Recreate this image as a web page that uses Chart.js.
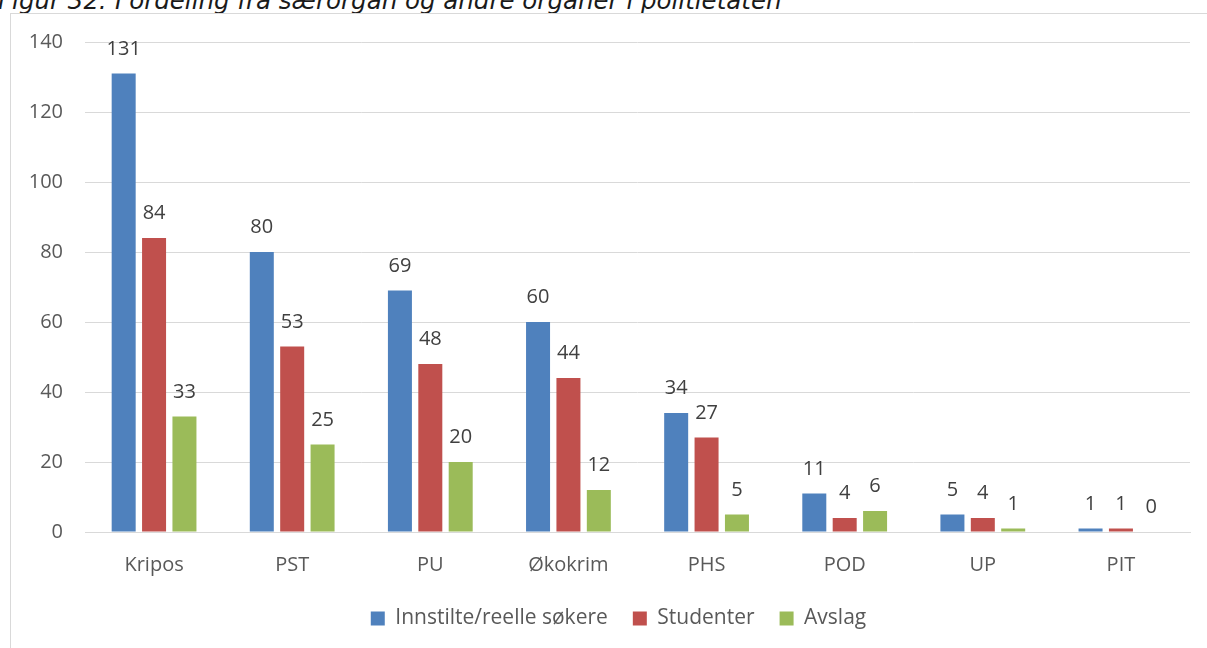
<!DOCTYPE html>
<html>
<head>
<meta charset="utf-8">
<script src="https://cdn.jsdelivr.net/npm/chart.js@4"></script>
<style>
  html, body { margin: 0; padding: 0; background: #fff; overflow: hidden; }
  body { width: 1207px; height: 648px; position: relative; }
  .title {
    position: absolute; left: -2px; top: -14px;
    font-family: "DejaVu Sans", Verdana, sans-serif; font-style: italic;
    font-size: 24.5px; color: #1a1a1a; white-space: nowrap;
  }
  .frame {
    position: absolute; left: 10px; top: 13px; width: 1300px; height: 800px;
    border: 1px solid #d9d9d9; box-sizing: border-box;
  }
  #wrap { position: absolute; left: 0; top: 0; width: 1207px; height: 648px; }
</style>
</head>
<body>
<div class="title">Figur 32: Fordeling fra særorgan og andre organer i politietaten</div>
<div class="frame"></div>
<div id="wrap"><canvas id="chart"></canvas></div>
<script>
// categories and series
const categories = ['Kripos', 'PST', 'PU', 'Økokrim', 'PHS', 'POD', 'UP', 'PIT'];
const innstilte  = [131, 80, 69, 60, 34, 11, 5, 1];
const studenter  = [84, 53, 48, 44, 27, 4, 4, 1];
const avslag     = [33, 25, 20, 12, 5, 6, 1, 0];
const yTicks     = [0, 20, 40, 60, 80, 100, 120, 140];

const FONT = '"Open Sans", "Noto Sans", sans-serif';
const TEXT = '#595959';
const SIZE = 20;

// Plugin: value labels above each bar
const valueLabels = {
  id: 'valueLabels',
  afterDatasetsDraw(chart) {
    const { ctx } = chart;
    ctx.save();
    ctx.font = `${SIZE}px ${FONT}`;
    ctx.fillStyle = '#404040';
    ctx.textAlign = 'center';
    ctx.textBaseline = 'alphabetic';
    chart.data.datasets.forEach((ds, i) => {
      chart.getDatasetMeta(i).data.forEach((bar, j) => {
        ctx.fillText(String(ds.data[j]), bar.x, bar.y - 19);
      });
    });
    ctx.restore();
  },
};

// Plugin: nudge the legend box right so it centres under the plot like the original
const legendShift = {
  id: 'legendShift',
  afterLayout(chart) {
    const lg = chart.legend;
    if (!lg) return;
    lg.left += 11;
    lg.right += 11;
  },
};

new Chart(document.getElementById('chart'), {
  type: 'bar',
  data: {
    labels: categories,
    datasets: [
      { label: 'Innstilte/reelle søkere', data: innstilte, backgroundColor: '#4f81bd' },
      { label: 'Studenter', data: studenter, backgroundColor: '#c0504d' },
      { label: 'Avslag', data: avslag, backgroundColor: '#9bbb59' },
    ],
  },
  options: {
    responsive: true,
    maintainAspectRatio: false,
    animation: false,
    categoryPercentage: 0.66,
    barPercentage: 0.79,
    layout: { padding: { top: 42, left: 25, right: 17, bottom: 9 } },
    scales: {
      x: {
        grid: { display: false },
        border: { color: '#d9d9d9', width: 1 },
        ticks: { color: TEXT, font: { family: FONT, size: SIZE }, padding: 13 },
        afterFit: s => { s.height = 51; },
      },
      y: {
        min: 0, max: 140,
        afterBuildTicks: s => { s.ticks = yTicks.map(v => ({ value: v })); },
        grid: { color: '#d9d9d9', drawTicks: false },
        border: { display: false },
        ticks: { color: TEXT, font: { family: FONT, size: SIZE }, padding: 22 },
        afterFit: s => { s.width = 60; },
      },
    },
    plugins: {
      legend: {
        position: 'bottom',
        labels: { color: TEXT, font: { family: FONT, size: 21 }, boxWidth: 14, boxHeight: 14, padding: 25 },
      },
      tooltip: { enabled: false },
    },
  },
  plugins: [valueLabels, legendShift],
});
</script>
</body>
</html>
